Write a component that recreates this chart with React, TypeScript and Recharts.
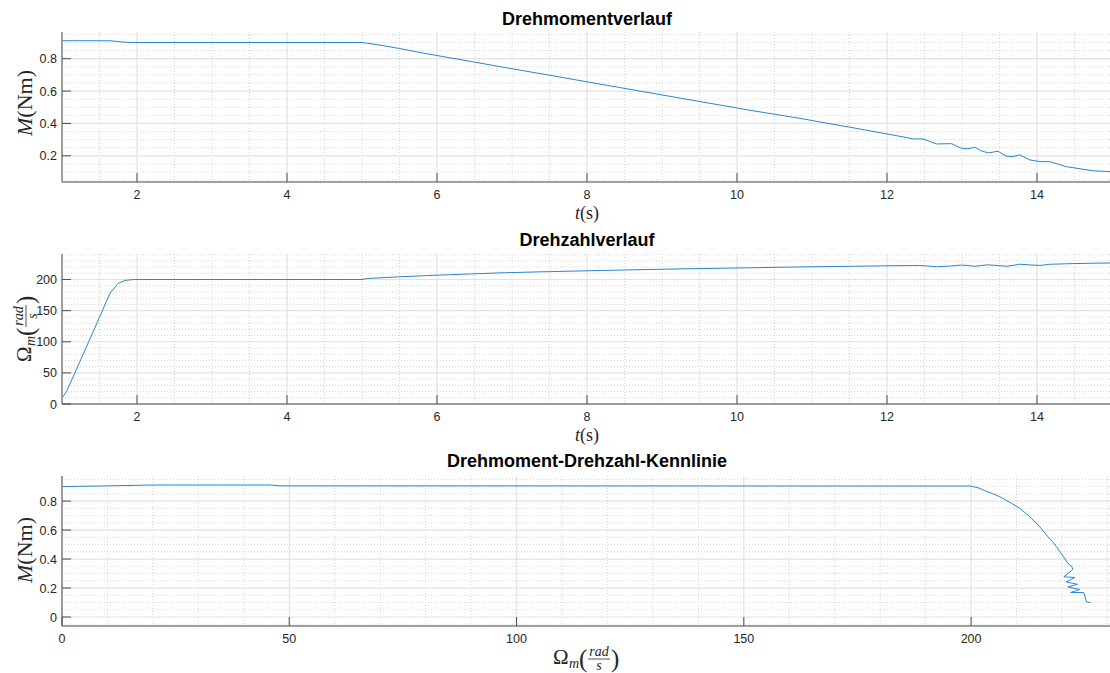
import React from 'react';
import { LineChart, Line, XAxis, YAxis, CartesianGrid } from 'recharts';

// ---------- data ----------
const timeT = [1, 1.06, 1.19, 1.4, 1.64, 1.75, 1.84, 1.95, 2.2, 5, 5.06, 5.2, 5.5, 5.86, 6.5, 6.85, 7.5, 8.42, 9.2, 10.14, 10.83, 11.56, 12.0, 12.27, 12.35, 12.48, 12.66, 12.86, 12.99, 13.08, 13.17, 13.26, 13.35, 13.48, 13.59, 13.68, 13.77, 13.9, 14.04, 14.17, 14.39, 14.75, 15];
const torqueM = [0.911, 0.911, 0.911, 0.911, 0.911, 0.906, 0.902, 0.9, 0.9, 0.9, 0.896, 0.887, 0.863, 0.831, 0.779, 0.75, 0.698, 0.623, 0.56, 0.484, 0.432, 0.372, 0.335, 0.312, 0.304, 0.304, 0.273, 0.275, 0.247, 0.243, 0.253, 0.23, 0.218, 0.228, 0.198, 0.195, 0.206, 0.175, 0.164, 0.164, 0.133, 0.107, 0.102];
const speedOmega = [9.6, 20, 55, 112, 178, 194, 198.5, 200, 200, 200, 201.5, 202.5, 204.3, 206.3, 209.2, 210.7, 212.7, 215.1, 217, 218.8, 220.2, 221.3, 222, 222.4, 222.5, 222.3, 220.5, 221.8, 223.2, 222.5, 221.2, 222.5, 223.6, 222.3, 221.4, 222.6, 224.6, 223.5, 222.6, 224.5, 225.3, 226.2, 226.6];

const kennOmega = [0, 10, 20, 46, 48, 199.7, 201.5, 203, 204.7, 206.3, 208.5, 210.7, 212, 213.3, 214.2, 215.1, 216, 216.9, 217.9, 218.8, 219.7, 220.5, 221.3, 222.1, 222.4, 220.4, 222.8, 220.9, 223.4, 221.3, 223.9, 221.9, 224.8, 225.1, 225.4, 226.3];
const kennM = [0.9, 0.905, 0.911, 0.911, 0.905, 0.904, 0.893, 0.872, 0.852, 0.83, 0.792, 0.75, 0.716, 0.681, 0.652, 0.623, 0.589, 0.554, 0.52, 0.484, 0.444, 0.408, 0.369, 0.351, 0.328, 0.277, 0.273, 0.242, 0.226, 0.208, 0.19, 0.169, 0.169, 0.138, 0.104, 0.1];

const timeTicks = [2, 4, 6, 8, 10, 12, 14];
const torqueTicks = [0.2, 0.4, 0.6, 0.8];
const speedTicks = [0, 50, 100, 150, 200];
const kennXTicks = [0, 50, 100, 150, 200];
const kennYTicks = [0, 0.2, 0.4, 0.6, 0.8];

const titles = ['Drehmomentverlauf', 'Drehzahlverlauf', 'Drehmoment-Drehzahl-Kennlinie'];

// ---------- helpers ----------
function steps(from: number, to: number, step: number): number[] {
  const out: number[] = [];
  for (let v = from; v <= to + 1e-9; v += step) out.push(Math.round(v * 1000) / 1000);
  return out;
}
function without(a: number[], b: number[]): number[] {
  return a.filter((v) => !b.some((w) => Math.abs(w - v) < 1e-9));
}

const plot1Data = timeT.map((t, i) => ({ x: t, y: torqueM[i] }));
const plot2Data = timeT.map((t, i) => ({ x: t, y: speedOmega[i] }));
const plot3Data = kennOmega.map((w, i) => ({ x: w, y: kennM[i] }));

const TICK_LEN = 9;
const SANS = "'Liberation Sans', Arial, Helvetica, sans-serif";
const SERIF = "'Liberation Serif', 'DejaVu Serif', 'Times New Roman', serif";
const TICK_COLOR = '#4d4d4d';
const LABEL_COLOR = '#262626';
const AXIS = { stroke: '#808080', strokeWidth: 1.5 };
const LINE_COLOR = '#2a86cc';

const fmt = (v: number) => String(v);

function BottomTick(p: any) {
  const { x, y, payload } = p;
  return (
    <g>
      <line x1={x} y1={y} x2={x} y2={y - TICK_LEN} stroke={TICK_COLOR} strokeWidth={1} />
      <text x={x} y={y + 17} textAnchor="middle" fontFamily={SANS} fontSize={12.5} fill={LABEL_COLOR}>
        {fmt(payload.value)}
      </text>
    </g>
  );
}
function TopTick(p: any) {
  const { x, y } = p;
  return <line x1={x} y1={y} x2={x} y2={y + TICK_LEN} stroke={TICK_COLOR} strokeWidth={1} />;
}
function LeftTick(p: any) {
  const { x, y, payload } = p;
  return (
    <g>
      <line x1={x} y1={y} x2={x + TICK_LEN} y2={y} stroke={TICK_COLOR} strokeWidth={1} />
      <text x={x - 5} y={y + 4.5} textAnchor="end" fontFamily={SANS} fontSize={12.5} fill={LABEL_COLOR}>
        {fmt(payload.value)}
      </text>
    </g>
  );
}
function RightTick(p: any) {
  const { x, y } = p;
  return <line x1={x} y1={y} x2={x - TICK_LEN} y2={y} stroke={TICK_COLOR} strokeWidth={1} />;
}

type SubplotProps = {
  data: { x: number; y: number }[];
  top: number;
  xDomain: [number, number];
  yDomain: [number, number];
  xTicks: number[];
  yTicks: number[];
  xMinor: number[];
  yMinor: number[];
};

function Subplot({ data, top, xDomain, yDomain, xTicks, yTicks, xMinor, yMinor }: SubplotProps) {
  return (
    <div style={{ position: 'absolute', left: 0, top }}>
      <LineChart width={1112} height={230} data={data} margin={{ top: 32, right: 0, bottom: 0, left: 0 }}>
        <CartesianGrid
          horizontalValues={yMinor}
          verticalValues={xMinor}
          stroke="#d6d6d6"
          strokeDasharray="1 2"
          strokeWidth={1}
        />
        <CartesianGrid horizontalValues={yTicks} verticalValues={xTicks} stroke="#e2e2e2" strokeWidth={1.2} />
        <XAxis
          dataKey="x"
          type="number"
          domain={xDomain}
          allowDataOverflow
          ticks={xTicks}
          interval={0}
          height={48}
          tickSize={0}
          tickMargin={0}
          tickLine={false}
          axisLine={AXIS}
          tick={(p: any) => <BottomTick {...p} />}
        />
        <XAxis
          xAxisId="top"
          orientation="top"
          type="number"
          domain={xDomain}
          allowDataOverflow
          ticks={xTicks}
          interval={0}
          height={0}
          tickSize={0}
          tickMargin={0}
          tickLine={false}
          axisLine={AXIS}
          tick={(p: any) => <TopTick {...p} />}
        />
        <YAxis
          type="number"
          domain={yDomain}
          allowDataOverflow
          ticks={yTicks}
          interval={0}
          width={62}
          tickSize={0}
          tickMargin={0}
          tickLine={false}
          axisLine={AXIS}
          tick={(p: any) => <LeftTick {...p} />}
        />
        <YAxis
          yAxisId="right"
          orientation="right"
          type="number"
          domain={yDomain}
          allowDataOverflow
          ticks={yTicks}
          interval={0}
          width={0}
          tickSize={0}
          tickMargin={0}
          tickLine={false}
          axisLine={AXIS}
          tick={(p: any) => <RightTick {...p} />}
        />
        <Line
          type="linear"
          dataKey="y"
          stroke={LINE_COLOR}
          strokeWidth={1}
          dot={false}
          activeDot={false}
          isAnimationActive={false}
        />
      </LineChart>
    </div>
  );
}

function TimeLabel({ x, y }: { x: number; y: number }) {
  return (
    <text x={x} y={y} textAnchor="middle" fontFamily={SERIF} fontSize={18} fill={LABEL_COLOR}>
      <tspan fontStyle="italic">t</tspan>
      <tspan>(s)</tspan>
    </text>
  );
}

function TorqueLabel({ x, y }: { x: number; y: number }) {
  return (
    <text
      transform={`translate(${x},${y}) rotate(-90)`}
      textAnchor="middle"
      fontFamily={SERIF}
      fontSize={22}
      fill={LABEL_COLOR}
    >
      <tspan fontStyle="italic">M</tspan>
      <tspan>(Nm)</tspan>
    </text>
  );
}

function OmegaLabel({ x, y, rotate }: { x: number; y: number; rotate: number }) {
  return (
    <g transform={`translate(${x},${y}) rotate(${rotate})`} fill={LABEL_COLOR} fontFamily={SERIF}>
      <text x={-34} y={5} fontSize={21}>Ω</text>
      <text x={-18} y={9} fontSize={14} fontStyle="italic">m</text>
      <text x={-8} y={8} fontSize={25}>(</text>
      <text x={12} y={-3.5} fontSize={14} fontStyle="italic" textAnchor="middle">rad</text>
      <line x1={1} y1={0} x2={23} y2={0} stroke={LABEL_COLOR} strokeWidth={0.8} />
      <text x={12} y={10.5} fontSize={14} fontStyle="italic" textAnchor="middle">s</text>
      <text x={24} y={8} fontSize={25}>)</text>
    </g>
  );
}

export default function App() {
  const timeMinor = without(steps(1, 15, 0.5), timeTicks);
  return (
    <div
      style={{
        position: 'absolute',
        left: 0,
        top: 0,
        width: 1110,
        height: 673,
        overflow: 'hidden',
        background: '#ffffff',
      }}
    >
      <Subplot
        data={plot1Data}
        top={0}
        xDomain={[1, 15]}
        yDomain={[0.038, 0.965]}
        xTicks={timeTicks}
        yTicks={torqueTicks}
        xMinor={timeMinor}
        yMinor={without(steps(0.05, 0.95, 0.05), torqueTicks)}
      />
      <Subplot
        data={plot2Data}
        top={221.7}
        xDomain={[1, 15]}
        yDomain={[0, 241]}
        xTicks={timeTicks}
        yTicks={speedTicks}
        xMinor={timeMinor}
        yMinor={without(steps(10, 240, 10), speedTicks)}
      />
      <Subplot
        data={plot3Data}
        top={444}
        xDomain={[0, 231]}
        yDomain={[-0.062, 0.973]}
        xTicks={kennXTicks}
        yTicks={kennYTicks}
        xMinor={without(steps(10, 230, 10), kennXTicks)}
        yMinor={without(steps(-0.05, 0.95, 0.05), kennYTicks)}
      />
      <svg
        width={1110}
        height={673}
        style={{ position: 'absolute', left: 0, top: 0, pointerEvents: 'none' }}
      >
        <text x={587} y={25} textAnchor="middle" fontFamily={SANS} fontWeight="bold" fontSize={18} fill="#000">
          {titles[0]}
        </text>
        <text x={587} y={246} textAnchor="middle" fontFamily={SANS} fontWeight="bold" fontSize={18} fill="#000">
          {titles[1]}
        </text>
        <text x={587} y={467} textAnchor="middle" fontFamily={SANS} fontWeight="bold" fontSize={18} fill="#000">
          {titles[2]}
        </text>
        <TimeLabel x={587} y={219} />
        <TimeLabel x={587} y={440.5} />
        <OmegaLabel x={587} y={659} rotate={0} />
        <TorqueLabel x={32} y={103} />
        <OmegaLabel x={26} y={328} rotate={-90} />
        <TorqueLabel x={32} y={550} />
      </svg>
    </div>
  );
}
